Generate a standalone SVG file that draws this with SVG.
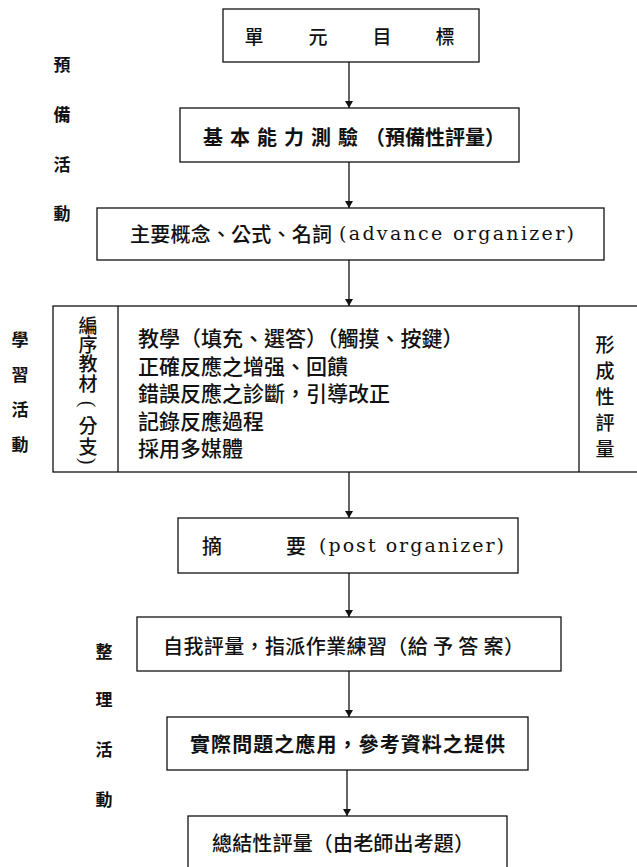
<svg xmlns="http://www.w3.org/2000/svg" width="637" height="867" viewBox="0 0 637 867">
<style>
.box{fill:none;stroke:#111;stroke-width:1.3}
.cn{font-family:"Noto Sans CJK TC","Noto Sans CJK SC",sans-serif;fill:#111;dominant-baseline:central;font-weight:500}
.b{font-weight:bold}
.lb{font-size:17px;text-anchor:middle}
.mid{text-anchor:middle}
.par{font-family:"Liberation Serif",serif;font-size:20px;fill:#111;text-anchor:middle;dominant-baseline:central}
.lat{font-family:"DejaVu Serif","Liberation Serif",serif;fill:#111;dominant-baseline:central;font-size:19px}
.conn line{stroke:#111;stroke-width:1.3;marker-end:url(#ah)}
</style>
<defs>
<marker id="ah" markerWidth="7" markerHeight="8" refX="7" refY="4" orient="auto" markerUnits="userSpaceOnUse"><path d="M0,0 L7,4 L0,8 z" fill="#111"/></marker>
</defs>
<rect width="637" height="867" fill="#fff"/>

<g id="label-prep">
<text class="cn lb b" x="62 62 62 62" y="63 113 163 212">預備活動</text>
</g>
<g id="label-learn">
<text class="cn lb b" x="20 20 20 20" y="338 373 408 443">學習活動</text>
</g>
<g id="label-org">
<text class="cn lb b" x="104 104 104 104" y="650 698 748 798">整理活動</text>
</g>

<g id="n1">
<rect class="box" x="223" y="9" width="256" height="53"/>
<text class="cn mid" font-size="19" x="254 318 382 445" y="35">單元目標</text>
</g>
<g id="n2">
<rect class="box" x="180" y="108" width="339" height="54"/>
<text class="cn b" font-size="20" x="203" y="136"><tspan letter-spacing="7">基本能力測驗</tspan><tspan>（預備性評量）</tspan></text>
</g>
<g id="n3">
<rect class="box" x="97" y="208" width="507" height="52"/>
<text class="cn" font-size="20" x="130" y="233" textLength="202" lengthAdjust="spacing">主要概念、公式、名詞</text>
<text class="lat" x="339" y="233" textLength="235" lengthAdjust="spacing">(advance organizer)</text>
</g>
<g id="n4">
<rect class="box" x="53" y="306" width="590" height="166"/>
<line class="box" x1="118" y1="306" x2="118" y2="472"/>
<line class="box" x1="579" y1="306" x2="579" y2="472"/>
<text class="cn mid" font-size="19" x="88 88 88 88" y="324 343 362 382">編序教材</text>
<text class="par" x="88" y="404" transform="rotate(90 88 404)">(</text>
<text class="cn mid" font-size="19" x="88 88" y="424 445">分支</text>
<text class="par" x="88" y="461" transform="rotate(90 88 461)">)</text>
<text class="cn" font-size="21" x="138" y="337">教學（填充、選答）（觸摸、按鍵）</text>
<text class="cn" font-size="21" x="138" y="364.5">正確反應之增强、回饋</text>
<text class="cn" font-size="21" x="138" y="392">錯誤反應之診斷，引導改正</text>
<text class="cn" font-size="21" x="138" y="419.5">記錄反應過程</text>
<text class="cn" font-size="21" x="138" y="447">採用多媒體</text>
<text class="cn mid" font-size="19" x="605 605 605 605 605" y="343 369 395 421 447">形成性評量</text>
</g>
<g id="n5">
<rect class="box" x="178" y="518" width="340" height="55"/>
<text class="cn mid" font-size="20" x="212 296" y="545">摘要</text>
<text class="lat" x="319" y="545" textLength="185" lengthAdjust="spacing">(post organizer)</text>
</g>
<g id="n6">
<rect class="box" x="137" y="617" width="424" height="54"/>
<text class="cn" font-size="20" x="163" y="645" textLength="361" lengthAdjust="spacing">自我評量，指派作業練習（給 予 答 案）</text>
</g>
<g id="n7">
<rect class="box" x="167" y="717" width="361" height="53"/>
<text class="cn b" font-size="20" x="190" y="743" textLength="315" lengthAdjust="spacing">實際問題之應用，參考資料之提供</text>
</g>
<g id="n8">
<rect class="box" x="188" y="816" width="319" height="70"/>
<text class="cn" font-size="20" x="212" y="842" textLength="262" lengthAdjust="spacing">總結性評量（由老師出考題）</text>
</g>

<g id="connectors" class="conn">
<line x1="349" y1="62" x2="349" y2="108"/>
<line x1="349" y1="162" x2="349" y2="208"/>
<line x1="349" y1="260" x2="349" y2="306"/>
<line x1="349" y1="472" x2="349" y2="518"/>
<line x1="349" y1="573" x2="349" y2="617"/>
<line x1="349" y1="671" x2="349" y2="717"/>
<line x1="347" y1="770" x2="347" y2="816"/>
</g>
</svg>
